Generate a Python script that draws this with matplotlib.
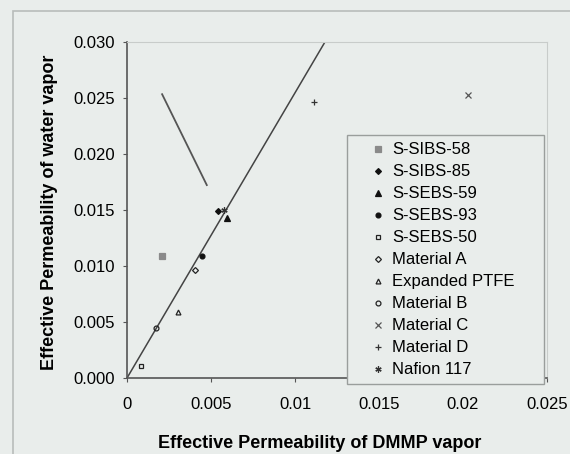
import matplotlib
matplotlib.use("Agg")
import matplotlib.pyplot as plt
import matplotlib.patches as patches
from matplotlib.transforms import Bbox, TransformedBbox

plt.rcParams['font.family'] = ['Liberation Sans', 'DejaVu Sans']

# data
series = ["S-SIBS-58", "S-SIBS-85", "S-SEBS-59", "S-SEBS-93", "S-SEBS-50",
          "Material A", "Expanded PTFE", "Material B", "Material C",
          "Material D", "Nafion 117"]
dmmp = [0.00209, 0.00544, 0.00598, 0.00446, 0.00085,
        0.00404, 0.00302, 0.00170, 0.0203, 0.01114, 0.00578]
water = [0.0109, 0.01486, 0.01427, 0.01092, 0.00107,
         0.00967, 0.0059, 0.0045, 0.0252, 0.0246, 0.01495]
trend_x = [0.0, 0.0118]
trend_y = [0.0, 0.030]
pointer_x = [0.00209, 0.00475]
pointer_y = [0.0253, 0.0172]
x_ticks = [0, 0.005, 0.01, 0.015, 0.02, 0.025]
x_labels = ["0", "0.005", "0.01", "0.015", "0.02", "0.025"]
y_ticks = [0.0, 0.005, 0.010, 0.015, 0.020, 0.025, 0.030]

# marker styles (Excel-like): (marker, facecolor, edgecolor, size)
styles = [
    ("s", "#8a8a8a", "#8a8a8a", 4),
    ("D", "#111111", "#111111", 3),
    ("^", "#111111", "#111111", 4),
    ("o", "#111111", "#111111", 3.5),
    ("s", "none", "#222222", 3.5),
    ("D", "none", "#222222", 3),
    ("^", "none", "#222222", 3.5),
    ("o", "none", "#222222", 3.5),
    ("x", "#555555", "#555555", 4),
    ("+", "#333333", "#333333", 4.5),
    ((6, 2, 0), "#333333", "#333333", 4.5),
]

bg = "#e9edeb"
W, H = 570, 454
fig = plt.figure(figsize=(5.7, 4.54), dpi=100, facecolor=bg)
ax = fig.add_axes([127 / W, 1 - 378 / H, 420 / W, 336.5 / H], facecolor=bg)

# outer chart frame
fig.patches.append(patches.Rectangle((13 / W, -0.05), 1.2, 1.05 - 11 / H,
                                     transform=fig.transFigure, fill=False,
                                     edgecolor="#b8bcba", linewidth=1.2))

ax.plot(trend_x, trend_y, color="#444444", linewidth=1.1, zorder=2)
ax.plot(pointer_x, pointer_y, color="#555555", linewidth=1.3, zorder=2)

for name, x, y, (m, fc, ec, ms) in zip(series, dmmp, water, styles):
    ax.plot([x], [y], linestyle="none", marker=m, markerfacecolor=fc,
            markeredgecolor=ec, markersize=ms, markeredgewidth=0.9,
            label=name, zorder=3)

ax.set_xlim(0, 0.025)
ax.set_ylim(0, 0.030)
ax.set_xticks(x_ticks)
ax.set_xticklabels(x_labels)
ax.set_yticks(y_ticks)
ax.set_yticklabels([f"{v:.3f}" for v in y_ticks])
ax.tick_params(axis="both", labelsize=12, direction="out", length=3,
               color="#555555")
ax.tick_params(axis="x", pad=11)
ax.tick_params(axis="y", pad=6)

for side in ["left", "bottom"]:
    ax.spines[side].set_color("#555555")
    ax.spines[side].set_linewidth(1.2)
for side in ["top", "right"]:
    ax.spines[side].set_color("#c8ccca")

fig.text(320 / W, 1 - 443 / H, "Effective Permeability of DMMP vapor",
         fontsize=13, fontweight="bold", ha="center", va="center")
ylab = fig.text(50 / W, 1 - 370 / H, "Effective Permeability of water vapor",
                fontsize=13, fontweight="bold", rotation=90,
                ha="center", va="bottom")
ylab.set_clip_box(TransformedBbox(Bbox([[0, 0], [1, 1 - 53 / H]]),
                                  fig.transFigure))
ylab.set_clip_on(True)

leg = ax.legend(loc="upper left", bbox_to_anchor=(0.524, 0.0, 0.469, 0.721),
                mode="expand", fontsize=12,
                frameon=True, fancybox=False, edgecolor="#9a9e9c",
                facecolor=bg, framealpha=1, handlelength=2.9,
                handletextpad=-0.6, labelspacing=0.42, borderpad=0.42,
                borderaxespad=0)
leg.get_frame().set_linewidth(1.0)

fig.savefig("out.png", dpi=100, facecolor=bg)
